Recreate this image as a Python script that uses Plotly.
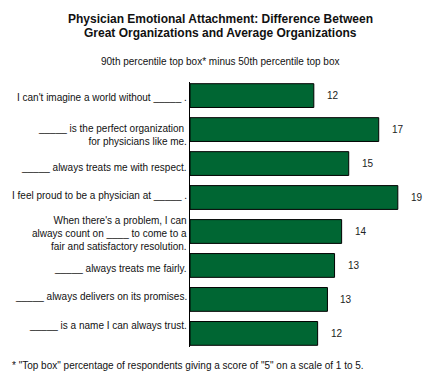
import plotly.graph_objects as go

categories = [
    "I can't imagine a world without _____ .",
    "_____ is the perfect organization <br>for physicians like me.",
    "_____ always treats me with respect.",
    "I feel proud to be a physician at _____ .",
    "When there's a problem, I can<br>always count on ____ to come to a<br>fair and satisfactory resolution.",
    "_____ always treats me fairly.",
    "_____ always delivers on its promises.",
    "_____ is a name I can always trust.",
]
bar_values = [11.35, 17.3, 14.55, 19.05, 13.9, 13.25, 12.6, 11.7]
value_labels = ["12", "17", "15", "19", "14", "13", "13", "12"]
title_lines = [
    "Physician Emotional Attachment: Difference Between",
    "Great Organizations and Average Organizations",
]
subtitle = "90th percentile top box* minus 50th percentile top box"
footnote = "* \"Top box\" percentage of respondents giving a score of \"5\" on a scale of 1 to 5."

FONT = "Liberation Sans, Arial, sans-serif"
GREEN = "#006633"
# small vertical nudges (px, downward) of the category labels as drawn in the original
label_nudge = [2, 5.5, 3.5, -2, 2, 3, -3, -8]

fig = go.Figure()
fig.add_trace(go.Bar(
    x=bar_values, y=categories, orientation="h",
    marker=dict(color=GREEN, line=dict(color="black", width=1)),
    width=0.7, hoverinfo="skip",
))

for v, c, t in zip(bar_values, categories, value_labels):
    fig.add_annotation(x=v, y=c, text=t, showarrow=False, xanchor="left",
                       xshift=11, font=dict(family=FONT, size=10, color="#222"))

for c, n in zip(categories, label_nudge):
    fig.add_annotation(xref="paper", x=0, y=c, text=c, showarrow=False,
                       xanchor="right", align="right", xshift=-1, yshift=-n,
                       font=dict(family=FONT, size=10, color="#111"))

fig.update_layout(
    width=440, height=375,
    margin=dict(l=190, r=10, t=82, b=28),
    paper_bgcolor="white", plot_bgcolor="white",
    showlegend=False,
    font=dict(family=FONT, size=10, color="#111"),
    xaxis=dict(range=[0, 22], visible=False, fixedrange=True, automargin=False),
    yaxis=dict(range=[7.4, -0.4], showline=True, linecolor="black", linewidth=1,
               ticks="", showgrid=False, showticklabels=False,
               fixedrange=True, automargin=False),
)

def py(px):
    return (347 - px) / 265

for line, ypx in zip(title_lines, [19.5, 33.5]):
    fig.add_annotation(xref="paper", yref="paper", x=30 / 240, y=py(ypx),
                       xanchor="center", yanchor="middle", showarrow=False,
                       text="<b>" + line + "</b>",
                       font=dict(family=FONT, size=12, color="#111"))

fig.add_annotation(xref="paper", yref="paper", x=30 / 240, y=py(61),
                   xanchor="center", yanchor="middle", showarrow=False,
                   text=subtitle, font=dict(family=FONT, size=10, color="#111"))
fig.add_annotation(xref="paper", yref="paper", x=-190 / 240 + 10 / 240, y=py(365),
                   xanchor="left", yanchor="middle", showarrow=False,
                   text=footnote, font=dict(family=FONT, size=10, color="#111"))

fig.write_html("out.html", config={"displayModeBar": False},
               post_script="document.body.style.margin='0';document.body.style.overflow='hidden';")
